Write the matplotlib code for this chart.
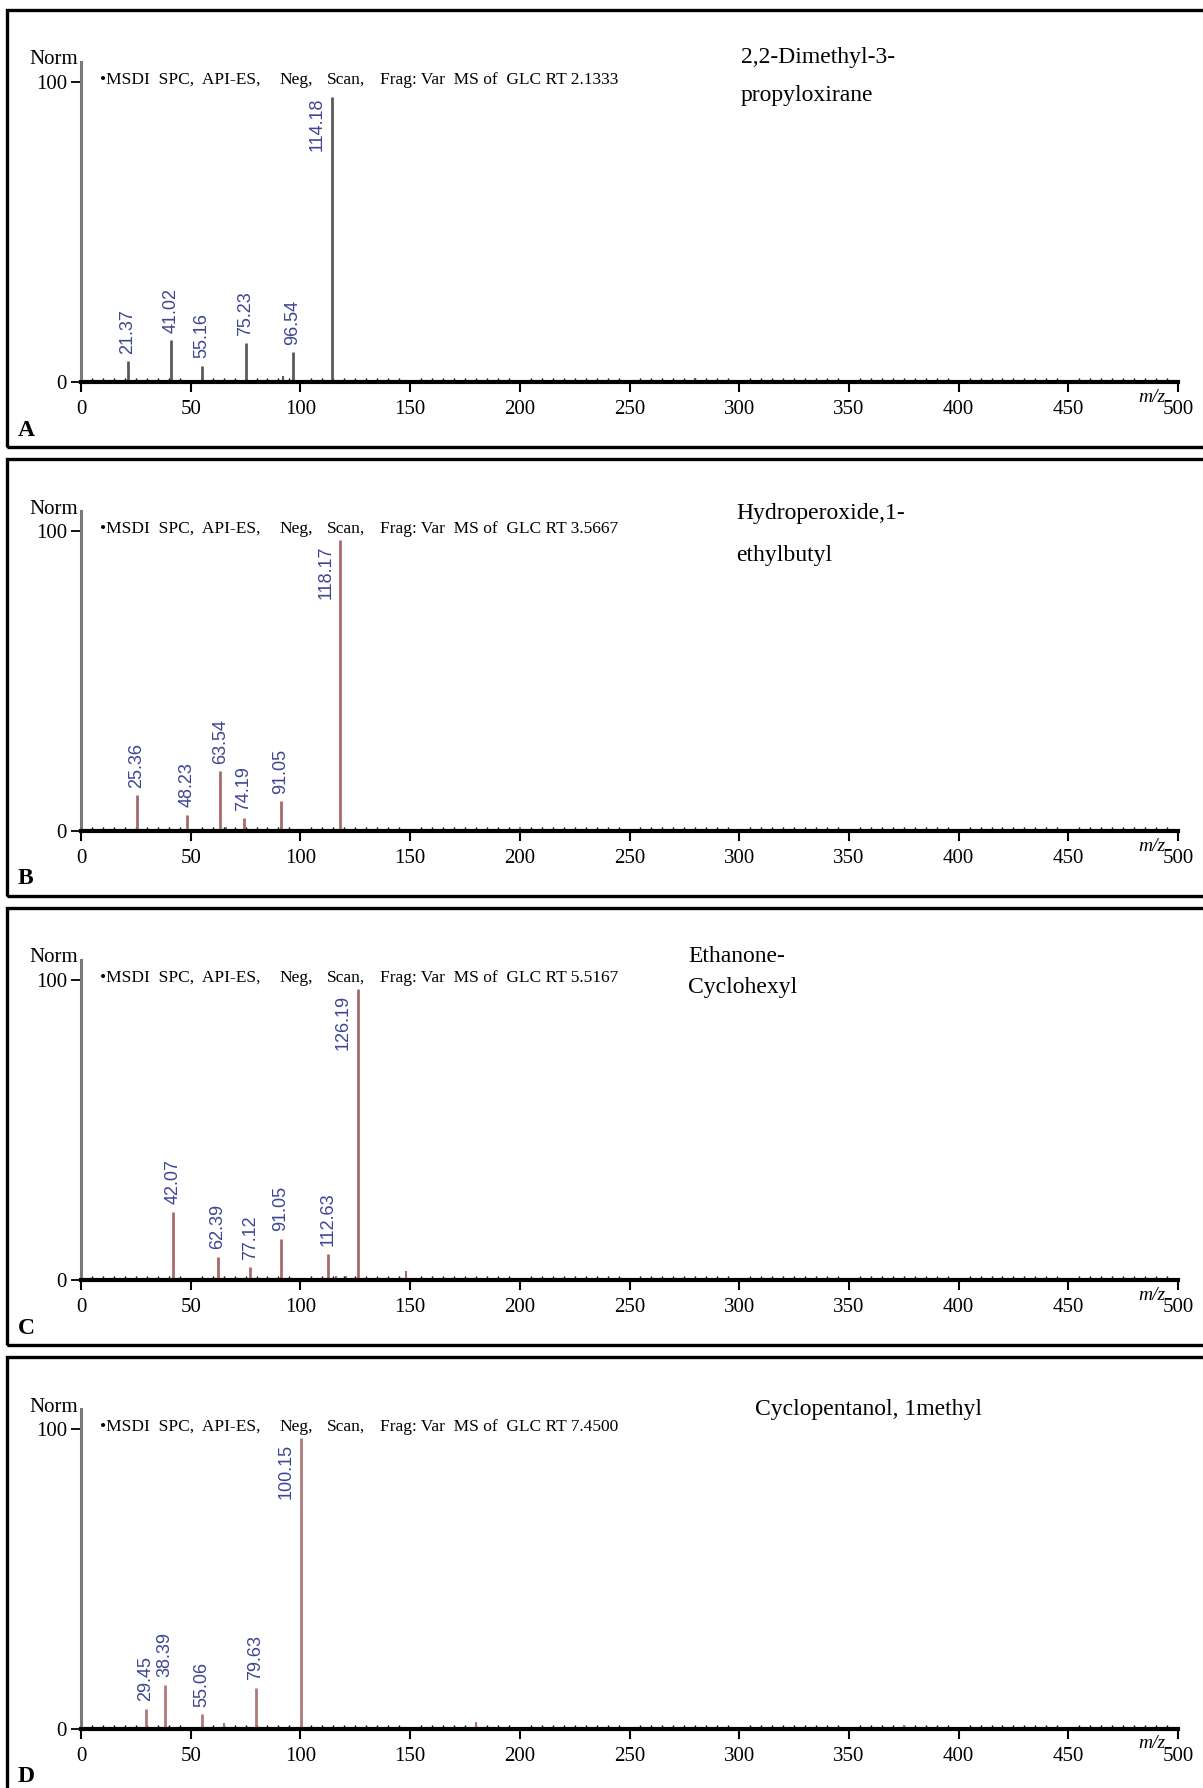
import matplotlib.pyplot as plt
from matplotlib.patches import Rectangle
from matplotlib.ticker import MultipleLocator

W, H = 1203, 1788

# data
letters = ['A', 'B', 'C', 'D']
names = [['2,2-Dimethyl-3-', 'propyloxirane'],
         ['Hydroperoxide,1-', 'ethylbutyl'],
         ['Ethanone-', 'Cyclohexyl'],
         ['Cyclopentanol, 1methyl']]
rt = ['2.1333', '3.5667', '5.5167', '7.4500']

mz_a = [21.37, 41.02, 55.16, 75.23, 96.54, 114.18]
int_a = [7, 14, 5.5, 13, 10, 95]
mz_b = [25.36, 48.23, 63.54, 74.19, 91.05, 118.17]
int_b = [12, 5.5, 20, 4.3, 10, 97]
mz_c = [42.07, 62.39, 77.12, 91.05, 112.63, 126.19]
int_c = [22.7, 7.7, 4.3, 13.7, 8.7, 97]
mz_d = [29.45, 38.39, 55.06, 79.63, 100.15]
int_d = [6.7, 14.7, 5, 13.7, 97]

# small unlabelled peaks
small_mz_a = [92, 280]
small_int_a = [2, 1.5]
small_mz_b = [66, 200]
small_int_b = [1.5, 1.5]
small_mz_c = [148, 116, 121]
small_int_c = [3, 1.5, 1.5]
small_mz_d = [65, 180, 375]
small_int_d = [2, 2.5, 1.5]

xticks = [0, 50, 100, 150, 200, 250, 300, 350, 400, 450, 500]

spectra = [(mz_a, int_a, small_mz_a, small_int_a),
           (mz_b, int_b, small_mz_b, small_int_b),
           (mz_c, int_c, small_mz_c, small_int_c),
           (mz_d, int_d, small_mz_d, small_int_d)]
peak_colors = ['#5a5a5a', '#a86a6a', '#a86a6a', '#b07878']
label_color = '#3c4592'
name_pos = [(741, [58, 95]), (736, [513, 555]), (688, [957, 987]), (755, [1409])]

plt.rcParams['font.family'] = 'Liberation Serif'
fig = plt.figure(figsize=(W / 100, H / 100), dpi=100)


def fx(px):
    return px / W


def fy(py):
    return 1 - py / H


for i in range(4):
    top = 10 + 449 * i
    mz, inten, smz, sint = spectra[i]

    # panel frame
    fig.patches.append(Rectangle((fx(7), fy(top + 437)), fx(1200), 437 / H,
                                 transform=fig.transFigure, fill=False,
                                 edgecolor='black', lw=2.4, zorder=0))

    ax = fig.add_axes([fx(81), fy(top + 372), fx(1097), 320 / H])
    ax.set_xlim(0, 500)
    ax.set_ylim(0, 106.7)
    ax.patch.set_alpha(0)
    for s in ['top', 'right']:
        ax.spines[s].set_visible(False)
    ax.spines['bottom'].set_linewidth(3)
    ax.spines['left'].set_color('#7a7a7a')
    ax.spines['left'].set_linewidth(2.2)

    ax.set_xticks(xticks)
    ax.set_xticklabels([str(t) for t in xticks])
    ax.xaxis.set_minor_locator(MultipleLocator(5))
    ax.set_yticks([0, 100])
    ax.set_yticklabels(['0', '100'])
    ax.tick_params(axis='x', which='major', direction='out', length=7,
                   width=1.5, labelsize=15, pad=6)
    ax.tick_params(axis='x', which='minor', direction='in', length=3,
                   width=1)
    ax.tick_params(axis='y', direction='out', length=7, width=1.3,
                   labelsize=15, pad=3)

    ax.vlines(smz, 0, sint, colors=peak_colors[i], lw=1.5)
    ax.vlines(mz, 0, inten, colors=peak_colors[i], lw=2)
    for m, h in zip(mz, inten):
        lab = '%.2f' % m
        if h > 50:
            # base peak: label sits left of the line, under the header
            ax.text(m - 6.5, min(h, 95), lab, rotation=90, ha='center',
                    va='top', color=label_color, fontsize=13,
                    family='Liberation Sans')
        else:
            ax.text(m, h + 2.5, lab, rotation=90, ha='center', va='bottom',
                    color=label_color, fontsize=13, family='Liberation Sans')

    fig.text(fx(1152), fy(top + 387), 'm/z', style='italic', fontsize=14,
             ha='center', va='center')
    fig.text(fx(54), fy(top + 50), 'Norm', fontsize=15, ha='center',
             va='center')
    fig.text(fx(18), fy(top + 420), letters[i], fontsize=17,
             fontweight='bold', ha='left', va='center')

    # header line
    hy = fy(top + 70)
    fig.text(fx(100), hy, '\u2022MSDI  SPC,  API-ES,', fontsize=12.5,
             va='center')
    fig.text(fx(279), hy, 'Neg,', fontsize=12.5, va='center')
    fig.text(fx(327), hy, 'Scan,', fontsize=12.5, va='center')
    fig.text(fx(380), hy, 'Frag: Var  MS of  GLC RT ' + rt[i],
             fontsize=12.5, va='center')

    nx, nys = name_pos[i]
    for line, ny in zip(names[i], nys):
        fig.text(fx(nx), fy(ny), line, fontsize=17, ha='left', va='center')

fig.savefig('out.png', dpi=100, facecolor='white')
